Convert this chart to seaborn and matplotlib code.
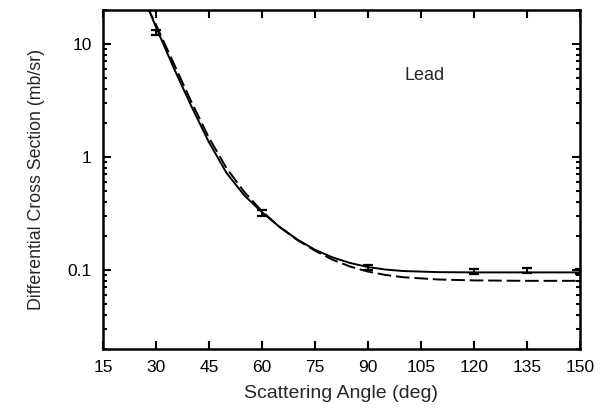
import numpy as np
import pandas as pd
import seaborn as sns
import matplotlib
matplotlib.use("Agg")
import matplotlib.pyplot as plt
from matplotlib.ticker import LogLocator, NullFormatter, FixedLocator

# measured points (lead)
angle_data = [30, 60, 90, 120, 135, 150]
sigma_data = [12.6, 0.32, 0.105, 0.097, 0.098, 0.097]
sigma_err = [0.7, 0.018, 0.005, 0.005, 0.005, 0.005]

# calculation, solid curve
angle_solid = [28, 30, 35, 40, 45, 50, 55, 60, 65, 70, 75, 80, 85, 90, 95, 100, 110, 120, 135, 150]
sigma_solid = [20.0, 14.1, 6.17, 2.82, 1.35, 0.72, 0.457, 0.324, 0.24, 0.186, 0.151, 0.129,
               0.115, 0.106, 0.1007, 0.0977, 0.0955, 0.095, 0.095, 0.095]

# calculation, dashed curve
angle_dash = [27.5, 30, 35, 40, 45, 50, 55, 60, 65, 70, 75, 80, 85, 90, 95, 100, 110, 120, 135, 150]
sigma_dash = [21.4, 14.8, 6.76, 3.09, 1.48, 0.794, 0.49, 0.331, 0.24, 0.184, 0.148, 0.123,
              0.107, 0.0966, 0.0902, 0.0861, 0.0822, 0.0807, 0.080, 0.080]

x_ticks = [15, 30, 45, 60, 75, 90, 105, 120, 135, 150]

sns.set_theme(style="ticks")
plt.rcParams['font.family'] = ['Liberation Sans', 'DejaVu Sans']

fig = plt.figure(figsize=(6.02, 4.09), dpi=100)
ax = fig.add_axes([0.171, 0.147, 0.792, 0.829])

solid = pd.DataFrame({"angle": angle_solid, "sigma": sigma_solid})
dash = pd.DataFrame({"angle": angle_dash, "sigma": sigma_dash})
sns.lineplot(data=solid, x="angle", y="sigma", color="black", lw=1.4, ax=ax)
sns.lineplot(data=dash, x="angle", y="sigma", color="black", lw=1.4, ax=ax,
             linestyle=(0, (7, 2.5)))
ax.errorbar(angle_data, sigma_data, yerr=sigma_err, fmt="none", ecolor="black",
            elinewidth=1.4, capsize=3.8, capthick=1.6)

ax.set_yscale("log")
ax.set_xlim(15, 150)
ax.set_ylim(0.02, 20)
ax.xaxis.set_major_locator(FixedLocator(x_ticks))
ax.set_yticks([0.1, 1, 10])
ax.set_yticklabels(["0.1", "1", "10"])
ax.yaxis.set_minor_locator(LogLocator(base=10, subs=np.arange(2, 10)))
ax.yaxis.set_minor_formatter(NullFormatter())

ax.tick_params(which="both", direction="in", top=True, right=True, width=1.5,
               labelsize=12.5, colors="black")
ax.tick_params(which="major", length=6, pad=8)
ax.tick_params(which="minor", length=3)
for s in ax.spines.values():
    s.set_linewidth(1.8)
    s.set_color("black")

ax.set_xlabel("Scattering Angle (deg)", fontsize=14, labelpad=7)
ax.set_ylabel("Differential Cross Section (mb/sr)", fontsize=12.8, labelpad=16)
ax.text(106, 5.3, "Lead", fontsize=13, ha="center", va="center")

fig.savefig("out.png", dpi=100)
